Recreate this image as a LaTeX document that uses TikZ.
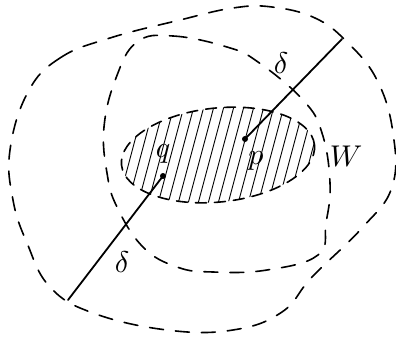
\documentclass[tikz,border=0pt]{standalone}
\usetikzlibrary{positioning}
\tikzset{
  sketch/.style={line width=1.6pt,line cap=round,dash pattern=on 14pt off 12pt},
  lbl/.style={inner sep=1pt,scale=3},
  dot/.style={circle,fill,inner sep=0pt,minimum size=6pt}
}
\begin{document}
\begin{tikzpicture}[x=1pt,y=-1pt]
\useasboundingbox (0,0) rectangle (396,342);
% outer and middle neighbourhoods
\draw[sketch] plot[smooth cycle,tension=0.7] coordinates {(28,92) (60,58) (110,38) (180,20) (233,8) (272,7) (315,18) (347,42) (377,80) (393,133) (392,187) (362,228) (312,277) (282,312) (233,330) (167,330) (93,313) (50,287) (27,243) (13,200) (10,150)};
\draw[sketch] plot[smooth cycle,tension=0.7] coordinates {(137,42) (173,36) (227,47) (258,62) (303,100) (322,133) (330,183) (326,223) (318,255) (267,270) (213,272) (177,267) (143,247) (117,207) (107,173) (104,127) (116,78)};
% hatched set
\begin{scope}
  \clip (218,155) ellipse[x radius=97,y radius=47,rotate=6];
  \foreach \i in {0,...,24}
    \draw[line width=0.9pt] (95+10*\i,215)--(127+10*\i,95);
\end{scope}
\draw[sketch,dash pattern=on 11pt off 8pt] (218,155) ellipse[x radius=97,y radius=47,rotate=6];
% the line through p and q
\node[dot] (p) at (245,139) {};
\node[dot] (q) at (163,176) {};
\coordinate (lo) at (68,300);
\coordinate (hi) at (342,39);
\draw[line width=1.8pt,line cap=round] (hi)--(p.center) (q.center)--(lo);
\node[lbl] (pl) at (256,161) {$p$};
\node[lbl] (ql) at (163,154) {$q$};
\node[lbl] (W) at (346,156) {$W$};
\node[lbl] (d1) at (281,63) {$\delta$};
\node[lbl] (d2) at (122,262) {$\delta$};
\end{tikzpicture}
\end{document}
